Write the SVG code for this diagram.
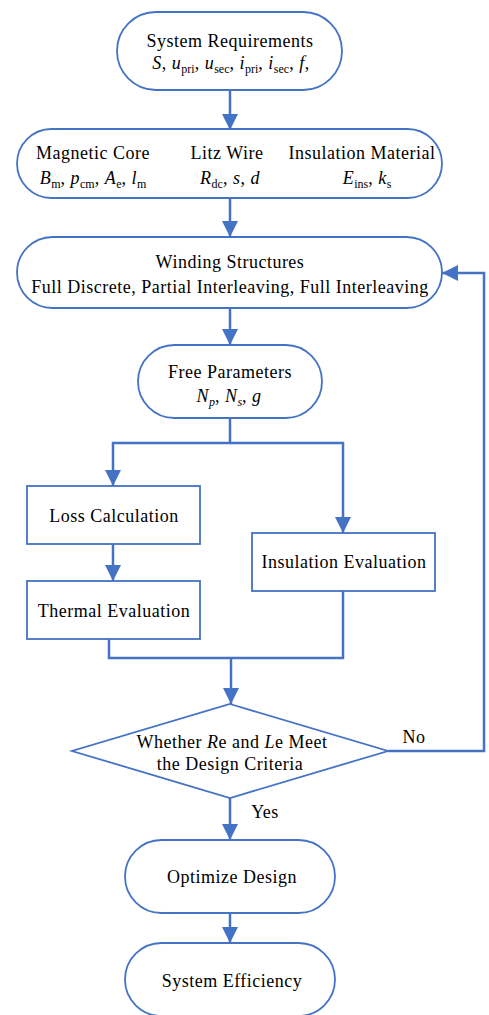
<svg xmlns="http://www.w3.org/2000/svg" width="489" height="1015" viewBox="0 0 489 1015">
<style>
.n{fill:#fff;stroke:#4472C4;stroke-width:1.8}
.c{fill:none;stroke:#4472C4;stroke-width:2.5}
text{font-family:"Liberation Serif","Times New Roman",serif;font-size:18px;fill:#000;text-anchor:middle;letter-spacing:0.5px}
.i{font-style:italic}
.s{font-size:12px;font-style:normal;letter-spacing:0}
</style>
<defs>
<marker id="ah" markerUnits="userSpaceOnUse" markerWidth="16" markerHeight="16" refX="16" refY="8" orient="auto">
<path d="M0,0 L16,8 L0,16 Z" fill="#4472C4"/>
</marker>
</defs>
<g id="connectors">
<line class="c" x1="230" y1="90" x2="230" y2="130" marker-end="url(#ah)"/>
<line class="c" x1="230" y1="198" x2="230" y2="237" marker-end="url(#ah)"/>
<line class="c" x1="230" y1="308" x2="230" y2="345" marker-end="url(#ah)"/>
<polyline class="c" points="230,418 230,443 113,443 113,486" marker-end="url(#ah)"/>
<polyline class="c" points="230,443 343,443 343,533" marker-end="url(#ah)"/>
<line class="c" x1="113" y1="544" x2="113" y2="581" marker-end="url(#ah)"/>
<polyline class="c" points="109,639 109,658 343,658 343,591"/>
<line class="c" x1="231" y1="658" x2="231" y2="704" marker-end="url(#ah)"/>
<polyline class="c" points="388,751 484,751 484,273 442,273" marker-end="url(#ah)"/>
<line class="c" x1="230" y1="798" x2="230" y2="840" marker-end="url(#ah)"/>
<line class="c" x1="230" y1="913" x2="230" y2="943" marker-end="url(#ah)"/>
<text x="414" y="743">No</text>
<text x="265" y="818">Yes</text>
</g>
<g id="system-requirements">
<rect class="n" x="117" y="12" width="225" height="78" rx="39"/>
<text x="230" y="47">System Requirements</text>
<text x="231" y="69"><tspan class="i">S</tspan>, <tspan class="i">u</tspan><tspan class="s" dy="4">pri</tspan><tspan dy="-4">, </tspan><tspan class="i">u</tspan><tspan class="s" dy="4">sec</tspan><tspan dy="-4">, </tspan><tspan class="i">i</tspan><tspan class="s" dy="4">pri</tspan><tspan dy="-4">, </tspan><tspan class="i">i</tspan><tspan class="s" dy="4">sec</tspan><tspan dy="-4">, </tspan><tspan class="i">f</tspan>,</text>
</g>
<g id="materials">
<rect class="n" x="17" y="129" width="425" height="69" rx="34.5"/>
<text x="93" y="159">Magnetic Core</text>
<text x="93" y="184"><tspan class="i">B</tspan><tspan class="s" dy="4">m</tspan><tspan dy="-4">, </tspan><tspan class="i">p</tspan><tspan class="s" dy="4">cm</tspan><tspan dy="-4">, </tspan><tspan class="i">A</tspan><tspan class="s" dy="4">e</tspan><tspan dy="-4">, </tspan><tspan class="i">l</tspan><tspan class="s" dy="4">m</tspan></text>
<text x="227" y="159">Litz Wire</text>
<text x="230" y="184"><tspan class="i">R</tspan><tspan class="s" dy="4">dc</tspan><tspan dy="-4">, </tspan><tspan class="i">s</tspan>, <tspan class="i">d</tspan></text>
<text x="362" y="159">Insulation Material</text>
<text x="367" y="184"><tspan class="i">E</tspan><tspan class="s" dy="4">ins</tspan><tspan dy="-4">, </tspan><tspan class="i">k</tspan><tspan class="s" dy="4">s</tspan></text>
</g>
<g id="winding-structures">
<rect class="n" x="17" y="237" width="425" height="71" rx="35.5"/>
<text x="230" y="268">Winding Structures</text>
<text x="230" y="293">Full Discrete, Partial Interleaving, Full Interleaving</text>
</g>
<g id="free-parameters">
<rect class="n" x="138" y="345" width="184" height="73" rx="36.5"/>
<text x="230" y="378">Free Parameters</text>
<text x="229" y="402"><tspan class="i">N</tspan><tspan class="s" dy="4" style="font-style:italic">p</tspan><tspan dy="-4">, </tspan><tspan class="i">N</tspan><tspan class="s" dy="4" style="font-style:italic">s</tspan><tspan dy="-4">, </tspan><tspan class="i">g</tspan></text>
</g>
<g id="loss-calculation">
<rect class="n" x="27" y="486" width="173" height="58"/>
<text x="114" y="522">Loss Calculation</text>
</g>
<g id="thermal-evaluation">
<rect class="n" x="27" y="581" width="173" height="58"/>
<text x="114" y="617">Thermal Evaluation</text>
</g>
<g id="insulation-evaluation">
<rect class="n" x="252" y="533" width="183" height="58"/>
<text x="344" y="568">Insulation Evaluation</text>
</g>
<g id="decision">
<polygon class="n" points="230,704 388,751 230,798 72,751"/>
<text x="232" y="748">Whether <tspan class="i">R</tspan>e and <tspan class="i">L</tspan>e Meet</text>
<text x="230" y="770">the Design Criteria</text>
</g>
<g id="optimize-design">
<rect class="n" x="125" y="840" width="210" height="73" rx="36.5"/>
<text x="232" y="883">Optimize Design</text>
</g>
<g id="system-efficiency">
<rect class="n" x="125" y="943" width="210" height="73" rx="36.5"/>
<text x="232" y="987">System Efficiency</text>
</g>
</svg>
